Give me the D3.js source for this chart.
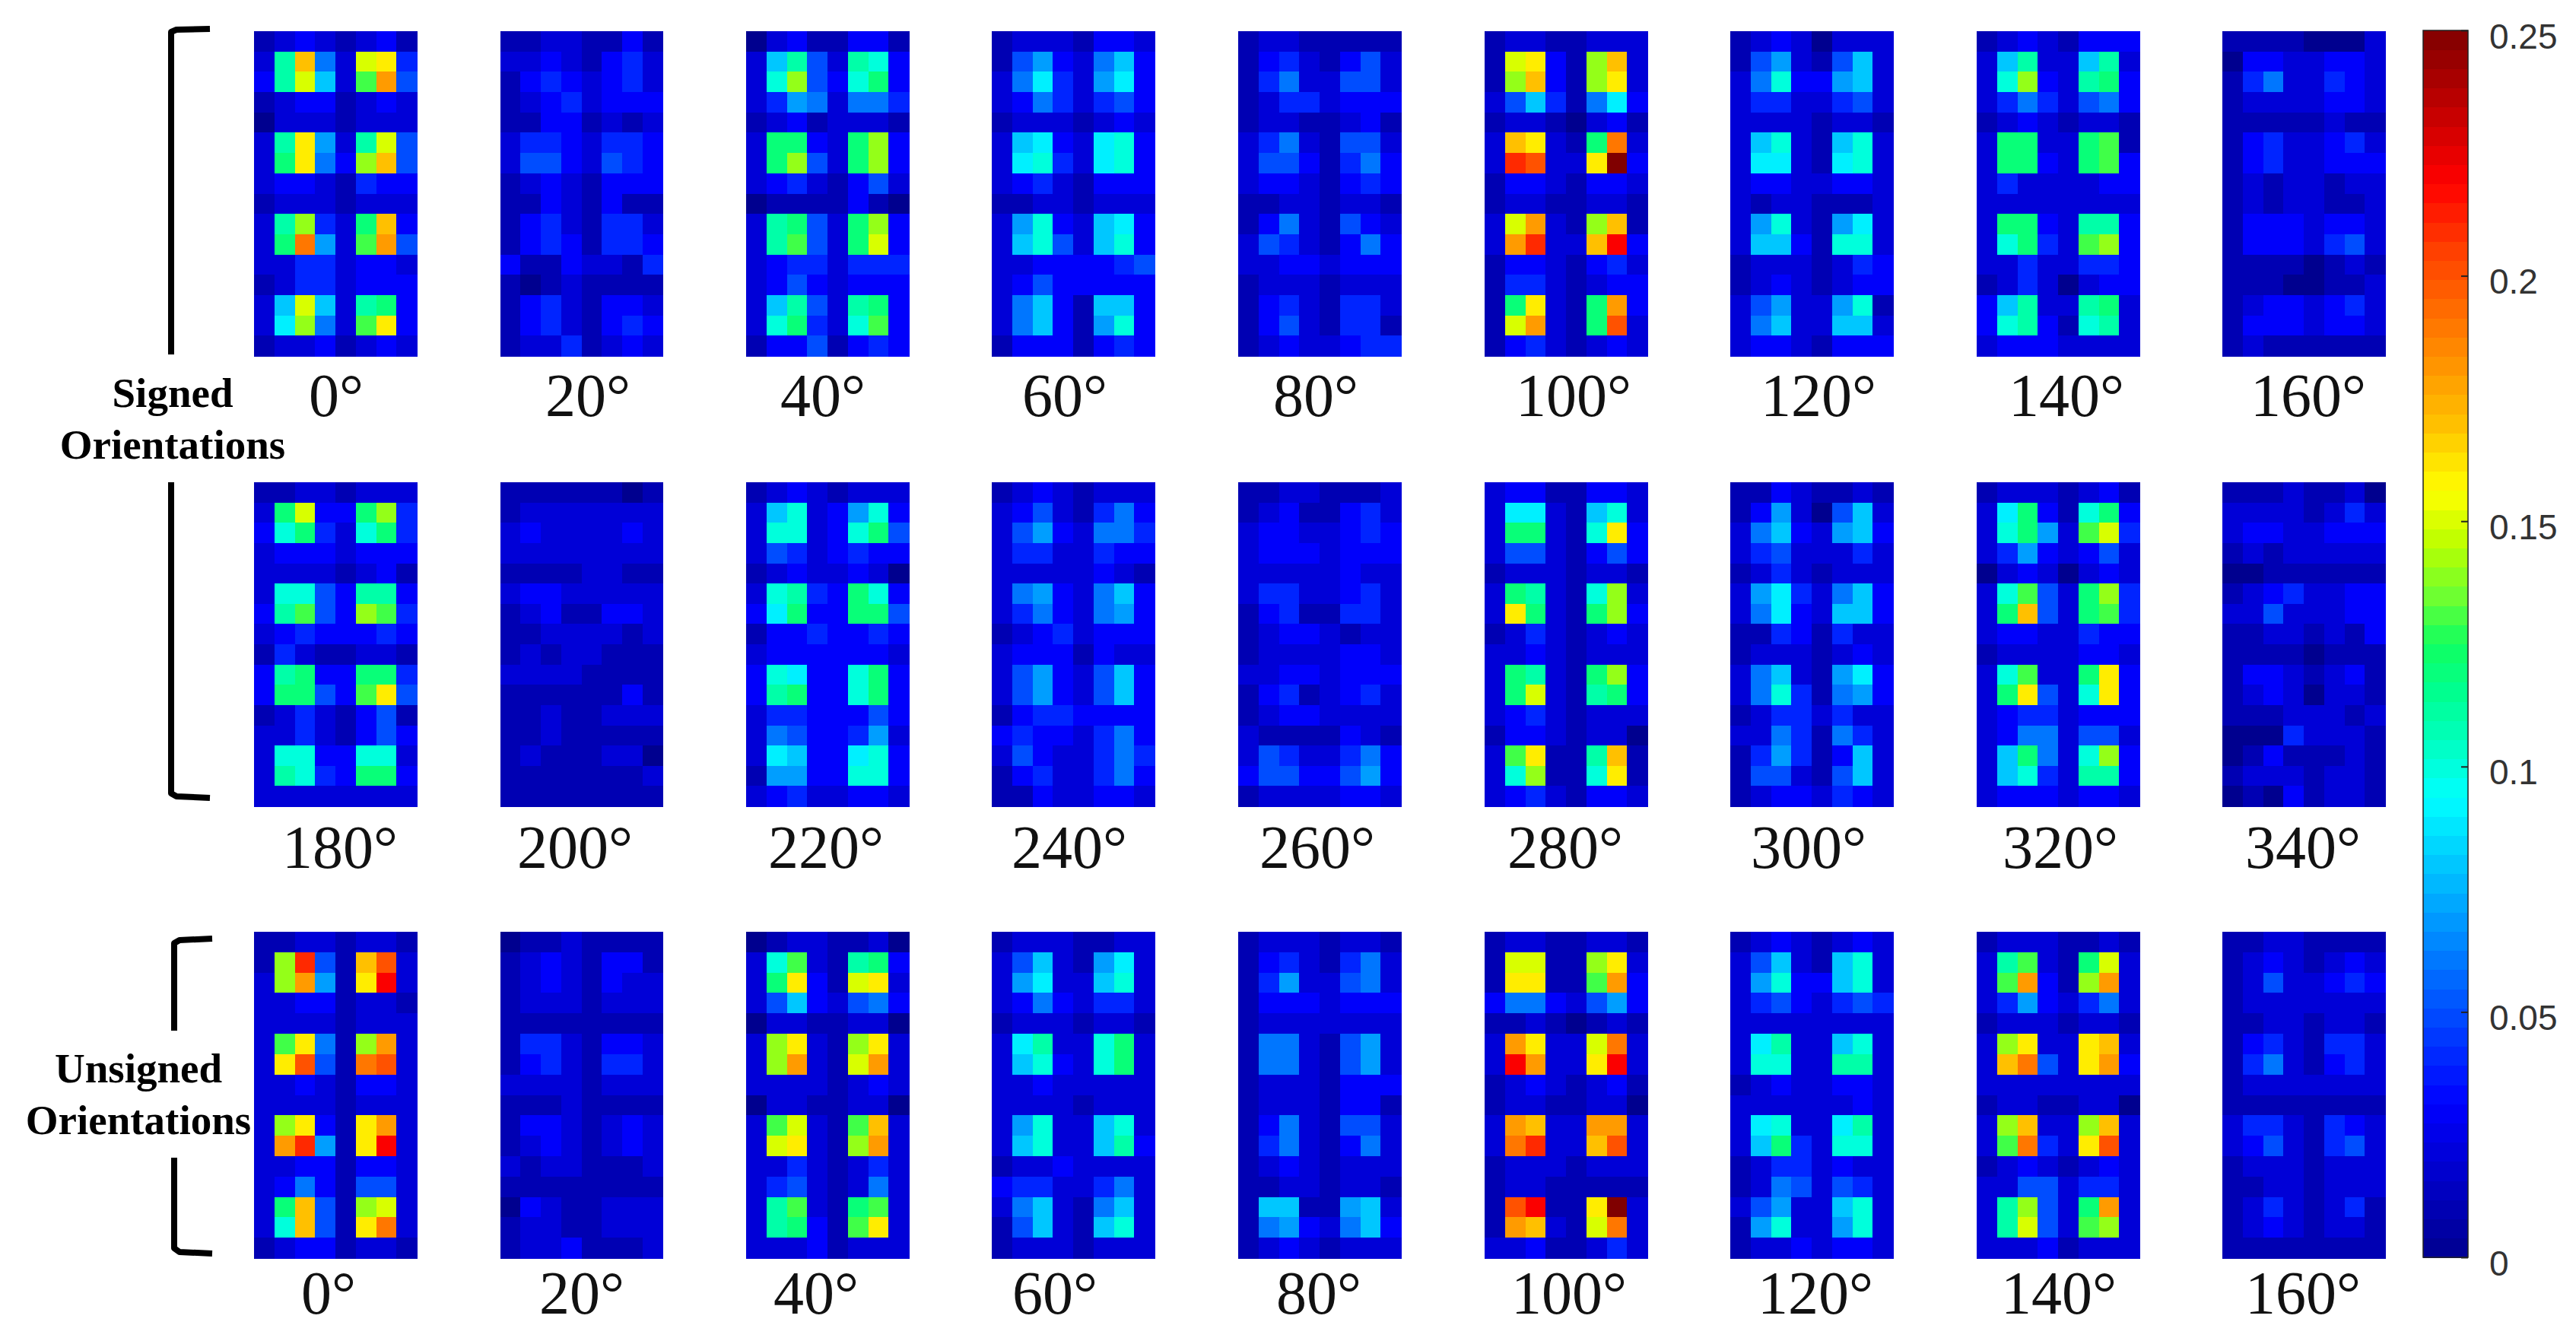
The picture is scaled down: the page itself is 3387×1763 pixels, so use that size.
<!DOCTYPE html>
<html><head><meta charset="utf-8">
<script src="https://cdnjs.cloudflare.com/ajax/libs/d3/7.8.5/d3.min.js"></script>
<style>html,body{margin:0;padding:0;background:#fff}svg{display:block}</style></head><body>
<svg id="c" width="3387" height="1763"></svg>
<script>
// Cell values in hundredths, 16 rows by 8 columns per panel.
const s0=[[1,2,3,2,1,2,3,1],[2,11,17,6,2,15,16,4],[3,11,15,8,2,13,18,5],[1,2,3,3,1,2,3,2],[0,2,2,2,1,2,2,2],[2,11,16,7,2,11,15,5],[2,12,16,6,3,14,17,5],[2,3,3,2,1,4,3,3],[1,2,2,2,1,2,2,2],[2,11,14,4,2,12,17,3],[2,12,19,7,2,13,18,5],[2,2,4,4,2,3,3,2],[1,2,4,4,2,3,3,3],[2,8,15,8,2,11,12,3],[2,9,14,6,2,13,16,3],[1,2,2,3,1,2,3,2]];
const s20=[[1,1,2,2,1,1,3,1],[2,2,3,2,1,3,4,2],[1,3,4,3,2,3,4,2],[1,2,3,4,2,3,3,3],[1,1,3,3,1,2,1,2],[2,4,4,3,2,4,4,3],[2,5,5,3,2,5,4,3],[1,2,3,2,1,3,3,3],[1,1,3,2,1,3,1,1],[1,3,4,2,1,4,4,2],[1,3,4,3,1,4,4,3],[3,1,1,3,2,2,1,4],[1,0,1,2,1,1,1,1],[1,3,4,2,1,3,3,2],[1,3,4,2,1,3,4,3],[1,2,2,4,1,2,3,2]];
const s40=[[0,2,3,1,1,3,3,1],[2,8,11,5,2,11,10,3],[2,10,14,5,3,10,12,3],[2,4,7,6,2,6,6,4],[1,2,3,1,2,2,2,1],[2,12,12,3,2,12,14,3],[2,12,14,5,2,12,14,3],[2,3,4,2,1,3,5,2],[0,1,1,1,1,3,1,0],[2,11,12,5,2,12,14,3],[2,11,13,5,2,12,15,3],[2,3,4,4,2,4,4,4],[2,3,5,3,2,3,3,3],[2,8,11,5,2,11,12,3],[2,10,12,4,2,10,13,3],[1,3,3,5,1,3,4,3]];
const s60=[[1,2,2,2,1,3,3,2],[1,5,7,3,2,6,8,3],[2,6,9,4,2,7,9,3],[2,3,6,4,2,4,5,3],[1,2,2,2,1,2,3,2],[2,8,9,3,2,9,10,3],[2,9,10,4,2,9,10,3],[2,3,4,2,1,3,3,3],[1,1,2,2,1,2,2,2],[2,7,10,3,2,8,9,3],[2,8,10,5,2,8,10,3],[2,2,3,3,3,3,4,5],[2,3,5,3,3,3,3,3],[2,6,8,3,1,8,8,3],[2,6,8,3,1,7,10,3],[1,3,3,3,1,3,4,3]];
const s80=[[1,2,2,1,1,1,1,1],[1,3,4,2,1,3,5,2],[1,4,6,2,2,5,5,2],[1,2,4,4,2,3,3,3],[1,2,2,1,1,2,3,1],[2,4,6,2,1,5,5,2],[2,5,5,3,1,4,6,3],[2,3,3,2,1,3,4,3],[1,1,2,2,1,2,2,1],[1,3,6,2,1,5,3,2],[2,5,4,2,1,3,6,3],[2,2,3,3,2,3,3,3],[1,2,2,2,1,2,2,2],[1,3,4,2,1,4,4,2],[1,3,5,2,1,4,4,1],[1,2,3,2,2,3,4,4]];
const s100=[[1,2,2,1,1,2,2,2],[1,15,16,3,1,14,17,2],[1,14,17,3,1,14,16,2],[2,5,8,4,1,6,9,3],[1,2,2,1,0,2,3,1],[2,17,16,2,1,12,19,2],[2,21,20,2,2,16,25,3],[1,3,3,2,1,3,3,2],[1,2,2,1,1,2,2,1],[2,15,18,2,1,14,17,1],[2,18,21,2,2,17,22,3],[1,3,3,2,1,3,4,2],[1,4,4,2,1,2,3,3],[1,12,16,2,1,12,18,3],[1,15,18,2,1,12,20,2],[1,3,4,2,1,2,3,2]];
const s120=[[1,2,3,2,0,2,2,2],[1,5,7,2,1,5,8,2],[2,6,10,3,3,7,8,2],[2,4,4,2,2,4,5,2],[2,2,2,2,1,2,2,1],[2,8,10,2,1,8,10,2],[2,9,9,2,1,9,10,2],[2,3,3,2,2,3,3,2],[2,1,2,2,1,1,1,2],[2,7,10,2,1,7,9,2],[2,8,8,3,1,10,10,2],[1,2,2,2,1,2,4,3],[1,2,3,2,1,2,3,3],[2,5,7,2,2,7,10,1],[2,6,8,2,2,8,8,2],[2,3,3,2,1,3,3,3]];
const s140=[[1,2,3,2,1,3,3,3],[2,8,11,2,2,8,11,2],[2,10,14,3,2,11,12,3],[2,4,6,4,2,5,6,3],[1,2,3,2,1,2,2,1],[2,12,12,2,2,12,13,1],[2,12,12,3,2,12,13,3],[2,4,2,2,2,2,3,3],[2,2,2,2,2,2,2,2],[2,12,12,3,2,11,11,3],[2,10,12,4,2,13,14,3],[2,2,4,2,2,4,4,3],[1,2,4,2,0,2,3,3],[3,8,11,2,2,11,12,2],[3,10,11,3,1,10,11,2],[2,3,3,3,2,2,2,2]];
const s160=[[1,1,1,1,0,0,0,2],[0,3,3,2,2,3,3,2],[1,4,6,2,2,4,3,2],[1,2,2,2,2,3,3,2],[1,1,1,1,1,2,1,1],[1,3,4,2,2,3,4,2],[1,3,4,2,2,3,3,3],[1,2,1,2,2,1,2,2],[1,2,1,2,2,1,1,2],[1,3,3,3,2,3,3,2],[1,3,3,3,2,4,5,2],[1,1,1,1,0,1,2,1],[1,1,1,0,0,1,1,2],[1,2,3,3,2,3,4,2],[1,3,3,3,2,3,3,2],[1,2,1,1,1,1,1,1]];
const s180=[[1,1,2,2,1,2,2,2],[2,12,15,3,3,12,14,4],[3,10,12,4,2,10,12,4],[2,3,3,3,2,3,3,3],[2,2,2,2,1,2,3,1],[2,10,10,5,3,11,11,3],[3,11,13,5,3,14,13,4],[2,3,4,3,3,3,4,3],[1,4,2,1,1,2,2,1],[3,11,12,3,3,12,12,4],[3,12,12,5,3,13,16,5],[1,2,4,2,1,3,5,1],[2,2,4,2,1,3,5,3],[2,10,10,3,3,10,10,2],[2,11,10,4,3,12,12,3],[2,2,2,2,2,2,2,2]];
const s200=[[1,1,1,1,1,1,0,1],[1,2,2,2,2,2,2,2],[2,3,2,2,2,2,3,2],[2,2,2,2,2,2,2,2],[1,1,1,1,2,2,1,1],[2,3,3,2,2,2,2,2],[1,2,3,1,1,3,3,2],[1,1,2,2,2,2,1,2],[1,2,1,2,2,1,1,1],[2,2,2,2,1,1,1,1],[1,1,1,1,1,1,3,1],[1,1,2,1,1,2,2,2],[1,1,2,1,1,1,1,1],[1,2,1,1,1,2,2,0],[1,1,1,1,1,1,1,2],[1,1,1,1,1,1,1,1]];
const s220=[[1,2,3,2,1,2,2,2],[2,8,10,2,3,7,10,3],[2,10,10,2,3,10,12,5],[2,5,4,2,3,4,3,3],[1,2,3,2,2,3,2,0],[2,10,11,4,3,12,10,3],[3,9,12,3,3,12,12,5],[1,3,3,4,3,3,4,3],[2,3,3,3,3,3,3,2],[3,10,9,3,3,10,12,3],[3,11,12,3,3,10,12,3],[2,4,4,3,3,3,5,3],[2,6,5,3,3,4,7,2],[2,9,8,3,3,9,10,3],[1,7,7,3,3,10,10,3],[2,3,4,2,2,3,3,2]];
const s240=[[1,2,3,2,1,2,2,2],[2,3,5,2,1,4,6,3],[2,5,7,3,2,6,6,4],[2,4,4,2,2,4,3,3],[2,2,2,2,2,3,2,1],[2,6,7,3,2,6,8,3],[2,4,6,3,2,6,7,3],[1,2,3,4,2,3,3,3],[2,3,3,3,1,3,2,2],[2,5,7,3,2,5,8,3],[2,5,7,3,2,5,8,3],[1,3,4,4,3,3,3,3],[3,4,3,3,2,4,6,3],[2,5,3,2,2,4,6,4],[1,3,4,2,2,4,6,3],[1,1,3,2,2,3,3,2]];
const s260=[[1,1,2,2,1,1,1,2],[1,2,3,1,1,3,4,2],[2,3,3,2,2,3,4,3],[2,3,3,3,2,3,3,3],[2,2,2,2,2,3,2,2],[2,4,4,2,2,3,4,2],[1,3,4,1,1,4,4,2],[1,2,3,3,2,1,2,2],[1,2,2,2,2,3,3,2],[2,2,3,3,2,3,3,3],[1,3,4,1,2,3,4,2],[1,2,3,3,2,2,2,2],[2,1,1,1,1,3,2,1],[2,5,4,2,2,4,6,3],[3,5,5,3,3,5,7,3],[1,2,2,2,2,3,3,2]];
const s280=[[2,3,3,1,1,3,3,2],[2,9,9,2,1,8,10,2],[2,12,12,2,1,10,16,3],[2,5,5,2,1,3,5,3],[1,2,2,2,1,2,2,1],[2,12,11,2,1,10,14,2],[2,16,12,2,1,12,14,3],[1,2,4,2,1,2,3,2],[2,2,3,2,1,2,2,2],[2,12,11,2,1,12,14,3],[2,12,15,2,1,11,12,3],[2,3,4,2,1,2,2,2],[1,3,3,2,1,2,2,0],[2,13,16,1,1,11,17,1],[2,10,14,1,1,10,16,1],[2,3,4,2,1,3,3,2]];
const s300=[[1,1,3,2,1,1,2,1],[1,3,7,2,0,5,8,2],[2,6,8,3,2,7,8,3],[2,4,5,2,2,2,4,2],[1,2,4,2,1,2,2,2],[2,7,9,4,2,6,8,3],[2,6,9,3,2,8,8,3],[1,1,4,3,1,4,2,2],[1,2,2,2,1,2,3,2],[2,6,8,2,1,7,9,3],[2,6,10,4,1,6,7,3],[1,2,4,4,2,4,2,2],[2,2,6,4,1,6,4,2],[1,4,7,4,1,3,8,2],[1,5,5,2,1,5,8,2],[1,2,3,3,2,4,3,2]];
const s320=[[1,2,2,2,1,2,3,1],[2,9,12,3,1,10,12,3],[2,10,12,7,2,13,15,4],[2,4,7,3,2,3,5,2],[0,2,3,2,0,2,3,2],[2,10,13,5,2,12,14,4],[2,12,17,5,2,12,13,4],[2,3,3,2,2,4,3,3],[1,2,2,2,2,3,3,2],[2,10,13,2,2,12,16,3],[2,12,16,5,2,10,16,3],[2,3,4,4,2,3,3,3],[2,3,6,6,2,5,5,2],[2,8,12,6,2,10,14,3],[2,8,10,4,2,11,11,3],[2,3,3,3,2,3,3,2]];
const s340=[[1,1,1,2,1,1,2,0],[2,2,2,2,1,2,4,2],[2,3,3,2,2,3,3,3],[1,2,1,2,2,2,2,2],[0,0,1,1,1,1,1,1],[1,2,3,4,2,2,3,3],[2,2,5,2,2,2,3,3],[1,1,2,2,1,2,1,3],[1,1,1,1,0,1,1,1],[1,3,3,2,1,2,3,1],[1,2,3,2,0,2,2,1],[1,1,1,2,2,2,1,2],[0,0,0,4,2,2,2,1],[0,1,3,1,1,1,2,1],[1,2,2,2,1,2,2,1],[0,1,0,3,1,2,2,1]];
const u0=[[1,1,2,2,1,2,2,1],[1,14,21,5,1,17,20,2],[2,14,18,7,1,16,22,2],[2,2,3,3,1,2,2,1],[2,2,2,2,1,2,2,2],[2,13,16,6,1,14,18,2],[2,16,20,5,1,19,20,2],[2,2,3,2,1,3,3,2],[2,2,2,2,1,2,2,2],[2,14,16,3,1,16,18,2],[2,18,21,7,1,16,22,2],[2,2,3,3,1,3,3,2],[2,3,6,3,1,5,5,2],[2,12,17,5,1,14,15,2],[2,10,17,5,1,16,19,2],[1,2,3,3,1,2,2,1]];
const u20=[[0,1,1,2,1,1,1,1],[1,2,3,2,1,3,3,1],[1,2,3,2,1,3,2,2],[1,2,2,2,1,2,2,2],[1,1,1,1,1,1,1,1],[1,4,4,2,1,3,3,2],[1,3,4,2,1,4,4,2],[2,2,2,2,1,2,2,2],[1,1,1,2,1,1,1,1],[1,3,3,2,1,2,3,2],[1,2,3,2,1,2,3,2],[2,1,2,2,1,1,1,2],[1,1,1,1,1,1,1,1],[0,3,2,1,1,2,2,2],[1,2,2,1,1,2,2,2],[1,2,2,3,1,1,1,2]];
const u40=[[0,1,2,2,1,1,2,0],[2,10,13,2,1,11,12,3],[2,12,16,3,1,15,16,2],[2,5,8,3,2,5,6,3],[0,2,2,1,1,2,2,0],[2,14,16,2,1,14,16,2],[2,14,18,2,1,15,18,2],[2,2,2,2,1,2,3,2],[0,2,2,1,1,2,2,0],[2,13,15,2,1,13,17,2],[2,15,16,2,1,14,18,2],[2,2,4,2,1,2,4,2],[2,4,5,2,1,2,6,2],[2,11,13,2,1,12,13,2],[2,11,12,3,1,13,16,2],[2,2,2,3,1,2,2,2]];
const u60=[[1,2,2,2,1,1,2,2],[2,5,8,2,1,7,9,2],[2,7,9,2,2,8,10,2],[2,3,6,3,2,4,4,2],[1,2,2,2,1,2,2,1],[2,9,11,2,2,10,12,2],[2,8,10,3,2,10,12,2],[2,2,3,2,2,2,2,2],[2,2,2,2,1,2,2,2],[2,7,10,2,2,8,10,2],[2,8,10,2,2,8,11,3],[1,2,2,3,2,2,2,2],[3,4,4,2,2,4,6,2],[2,6,8,2,1,6,8,2],[1,5,8,2,1,8,10,2],[1,2,2,2,1,2,2,2]];
const u80=[[1,2,2,2,1,2,2,1],[1,3,4,2,1,4,6,2],[1,4,7,2,2,5,6,2],[1,3,3,3,2,3,3,3],[1,2,2,2,2,2,2,2],[1,6,6,2,1,5,7,2],[1,6,6,2,1,5,7,2],[1,2,2,2,1,3,3,3],[1,2,2,2,1,3,3,1],[1,3,6,2,1,5,5,2],[1,4,6,2,1,3,6,2],[1,2,3,2,1,2,2,2],[1,1,2,2,1,2,2,1],[1,8,8,1,1,7,8,2],[1,6,7,3,2,6,8,3],[1,2,3,2,1,2,2,2]];
const u100=[[1,2,2,1,1,2,2,1],[1,15,15,1,1,14,16,2],[1,16,16,1,1,13,18,3],[3,6,6,3,2,5,7,3],[1,1,2,1,0,1,2,1],[2,18,16,2,2,15,19,2],[2,22,18,2,2,16,22,2],[1,2,3,2,1,2,3,1],[1,2,2,1,1,2,2,0],[2,18,17,2,2,18,18,2],[2,19,21,2,2,17,20,2],[1,2,2,2,1,2,2,2],[1,2,2,1,1,1,1,1],[1,20,22,1,1,16,25,2],[1,18,17,2,1,15,19,2],[2,2,3,1,1,2,4,2]];
const u120=[[1,2,3,2,1,2,3,2],[2,5,8,2,1,8,10,2],[2,7,10,3,3,8,10,2],[2,4,5,3,2,4,5,4],[2,2,2,2,2,2,2,2],[2,9,11,2,2,8,10,2],[2,10,10,2,2,11,11,2],[1,2,3,2,2,3,3,2],[2,2,2,2,2,2,3,2],[2,9,10,2,2,9,11,2],[2,8,12,4,2,10,10,2],[1,2,4,4,2,3,2,2],[1,2,6,5,2,5,4,2],[2,5,7,2,2,8,10,2],[1,7,10,2,2,7,10,2],[1,2,2,3,2,3,3,2]];
const u140=[[1,2,2,2,1,1,2,1],[2,11,13,2,1,12,15,2],[2,13,18,3,1,14,18,2],[2,4,7,3,2,4,6,2],[1,2,2,2,1,2,2,1],[2,14,16,2,2,16,17,2],[2,17,19,5,2,16,18,3],[2,2,2,2,2,2,2,2],[1,2,2,1,1,2,2,0],[2,14,17,2,2,14,17,2],[2,13,19,4,2,16,20,2],[1,2,3,2,1,2,3,2],[2,2,5,5,2,4,4,2],[2,11,14,5,2,12,18,2],[2,11,15,5,2,13,14,2],[2,2,2,3,1,2,2,2]];
const u160=[[1,1,2,2,1,1,1,1],[1,2,3,2,1,2,3,2],[1,2,5,2,2,3,4,3],[1,2,2,2,2,2,2,2],[1,1,2,2,1,2,2,1],[1,3,4,2,1,4,4,2],[1,4,6,2,1,3,4,2],[1,2,2,2,2,2,2,2],[1,1,1,1,1,1,1,1],[2,4,4,2,1,4,3,2],[2,3,5,2,1,4,5,2],[1,2,2,2,1,2,2,2],[1,1,2,2,1,2,2,2],[1,2,4,2,1,2,4,1],[1,2,3,2,1,2,2,1],[1,1,1,1,1,1,1,1]];

const row1Panels=[s0,s20,s40,s60,s80,s100,s120,s140,s160];
const row2Panels=[s180,s200,s220,s240,s260,s280,s300,s320,s340];
const row3Panels=[u0,u20,u40,u60,u80,u100,u120,u140,u160];
const row1Labels=["0°","20°","40°","60°","80°","100°","120°","140°","160°"];
const row2Labels=["180°","200°","220°","240°","260°","280°","300°","320°","340°"];
const row3Labels=row1Labels;
const colorTicks=[0,0.05,0.1,0.15,0.2,0.25];

// Layout
const panelLeft=[334,657.5,981,1304,1628,1952,2275,2599,2922], panelW=214;
const layout=[
 {panels:row1Panels,labels:row1Labels,top:41,bottom:468,base:547,lx:[442,773,1082,1400,1730,2069,2391,2717,3035]},
 {panels:row2Panels,labels:row2Labels,top:634,bottom:1060,base:1141,lx:[447,756,1086,1406,1732,2058,2378,2709,3028]},
 {panels:row3Panels,labels:row3Labels,top:1225,bottom:1654,base:1727,lx:[432,765,1073,1387,1734,2063,2387,2707,3028]}
];
const svg=d3.select("#c");
const jet=d3.scaleLinear()
 .domain([0,.03125,.0625,.09375,.105,.115,.125,.135,.145,.156,.17,.1875,.205,.219,.25])
 .range(["#00008f","#0000ff","#0080ff","#00ffff","#00ffc0","#00ff90","#10ff60","#70ff30","#b8ff00","#ffff00","#ffc000","#ff8000","#ff4000","#ff0000","#800000"])
 .clamp(true);
const colIdx=d3.range(8), rowIdx=d3.range(16);
layout.forEach(L=>{
 const y=d3.scaleBand().domain(rowIdx).range([L.top,L.bottom]);
 L.panels.forEach((grid,p)=>{
  const x=d3.scaleBand().domain(colIdx).range([panelLeft[p],panelLeft[p]+panelW]);
  const cells=grid.flatMap((r,ri)=>r.map((v,ci)=>({ri,ci,v:v/100})));
  svg.append("g").selectAll("rect").data(cells).join("rect")
   .attr("x",d=>x(d.ci)).attr("y",d=>y(d.ri))
   .attr("width",x.bandwidth()+.5).attr("height",y.bandwidth()+.5)
   .attr("fill",d=>jet(d.v)).attr("shape-rendering","crispEdges");
  svg.append("text").attr("x",L.lx[p]).attr("y",L.base).attr("text-anchor","middle")
   .attr("font-family","'Liberation Serif','Times New Roman',serif").attr("font-size",80).attr("fill","#111").text(L.labels[p]);
 });
});
// Colour bar
const cbY=d3.scaleLinear().domain([0,.25]).range([1653,40]);
const levels=d3.range(64);
const step=.25/64;
svg.append("g").selectAll("rect").data(levels).join("rect")
 .attr("x",3186).attr("width",59)
 .attr("y",i=>cbY((i+1)*step)).attr("height",i=>cbY(i*step)-cbY((i+1)*step)+.5)
 .attr("fill",i=>jet((i+.5)*step)).attr("shape-rendering","crispEdges");
svg.append("rect").attr("x",3186).attr("y",40).attr("width",59).attr("height",1613).attr("fill","none").attr("stroke","#222").attr("stroke-width",1.5);
const axis=d3.axisRight(cbY).tickValues(colorTicks).tickSizeInner(-9).tickSizeOuter(0).tickPadding(28).tickFormat(d3.format("~g"));
const ag=svg.append("g").attr("transform","translate(3245,0)").call(axis);
ag.select(".domain").remove();
ag.selectAll("line").attr("stroke","#222").attr("stroke-width",2);
ag.selectAll("text").attr("font-family","'Liberation Sans',Arial,sans-serif").attr("font-size",46).attr("fill","#333").attr("dy","0.5em");
// Brackets
const line=d3.line().curve(d3.curveLinear);
function seg(points){svg.append("path").attr("d",line(points)).attr("fill","none").attr("stroke","#000").attr("stroke-width",8).attr("stroke-linejoin","round");}
seg([[276,38],[232,39],[225,42],[225,466]]);
seg([[225,634],[225,1043],[232,1047],[276,1049]]);
seg([[279,1234],[236,1236],[229,1240],[229,1355]]);
seg([[229,1522],[229,1641],[236,1646],[279,1648]]);
// Group titles
function title(t,x,y){svg.append("text").attr("x",x).attr("y",y).attr("text-anchor","middle").attr("font-family","'Liberation Serif','Times New Roman',serif").attr("font-weight","bold").attr("font-size",55).attr("fill","#000").text(t);}
title("Signed",227,535);title("Orientations",227,603);
title("Unsigned",182,1423);title("Orientations",182,1491);
</script></body></html>
